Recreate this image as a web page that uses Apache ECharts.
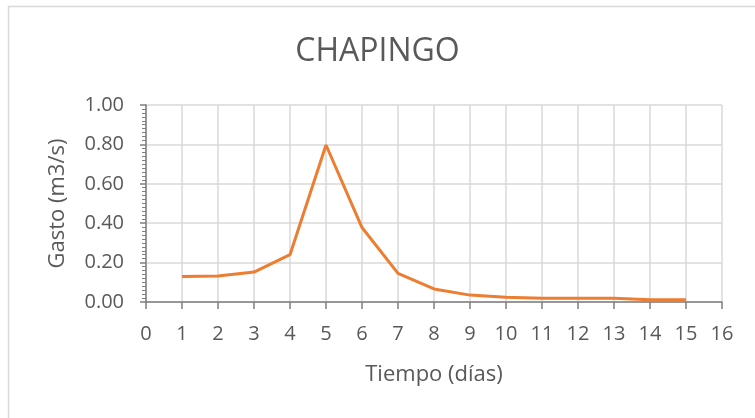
<!DOCTYPE html>
<html>
<head>
<meta charset="utf-8">
<script src="https://cdn.jsdelivr.net/npm/echarts@6/dist/echarts.min.js"></script>
<style>
  html, body { margin: 0; padding: 0; background: #fff; }
  #chart { width: 755px; height: 418px; }
</style>
</head>
<body>
<div id="chart"></div>
<script>
// Tiempo (días) and Gasto (m3/s)
const dias = [1, 2, 3, 4, 5, 6, 7, 8, 9, 10, 11, 12, 13, 14, 15]
const gasto = [0.130, 0.132, 0.152, 0.240, 0.797, 0.378, 0.145, 0.066, 0.035, 0.024, 0.019, 0.019, 0.019, 0.012, 0.012]

const font = '"Open Sans", "Liberation Sans", sans-serif'
const textColor = '#595959'

const chart = echarts.init(document.getElementById('chart'), null, { renderer: 'canvas' })

chart.setOption({
  backgroundColor: '#fff',
  animation: false,

  graphic: [
    {
      type: 'rect',
      shape: { x: 8.5, y: 6.5, width: 800, height: 500 },
      style: { fill: 'none', stroke: '#d9d9d9', lineWidth: 1.5 },
      silent: true
    }
  ],

  title: {
    text: 'CHAPINGO',
    left: 'center',
    top: 31,
    textStyle: {
      color: textColor,
      fontFamily: font,
      fontSize: 32,
      fontWeight: 'normal'
    }
  },

  grid: {
    left: 146,
    right: 33,
    top: 105,
    bottom: 116
  },

  xAxis: {
    type: 'value',
    min: 0,
    max: 16,
    interval: 1,
    name: 'Tiempo (días)',
    nameLocation: 'middle',
    nameGap: 62,
    nameTextStyle: { color: textColor, fontFamily: font, fontSize: 22 },
    axisLine: { show: true, lineStyle: { color: '#7f7f7f', width: 1.5 } },
    axisTick: { show: true, length: 7, lineStyle: { color: '#7f7f7f', width: 1.5 } },
    axisLabel: { color: textColor, fontFamily: font, fontSize: 20, margin: 22 },
    splitLine: { show: true, lineStyle: { color: '#d9d9d9', width: 1.5 } }
  },

  yAxis: {
    type: 'value',
    min: 0,
    max: 1,
    interval: 0.2,
    name: 'Gasto (m3/s)',
    nameLocation: 'middle',
    nameGap: 77,
    nameTextStyle: { color: textColor, fontFamily: font, fontSize: 22 },
    axisLine: { show: true, lineStyle: { color: '#7f7f7f', width: 1.5 } },
    axisTick: { show: true, length: 6, lineStyle: { color: '#7f7f7f', width: 1.5 } },
    minorTick: { show: true, splitNumber: 10, length: 4, lineStyle: { color: '#7f7f7f', width: 1 } },
    axisLabel: {
      color: textColor,
      fontFamily: font,
      fontSize: 20,
      margin: 22,
      formatter: (v) => v.toFixed(2)
    },
    splitLine: { show: true, lineStyle: { color: '#d9d9d9', width: 1.5 } }
  },

  series: [
    {
      type: 'line',
      data: dias.map((d, i) => [d, gasto[i]]),
      showSymbol: false,
      lineStyle: { color: '#ED7D31', width: 3 },
      itemStyle: { color: '#ED7D31' }
    }
  ]
})
</script>
</body>
</html>
